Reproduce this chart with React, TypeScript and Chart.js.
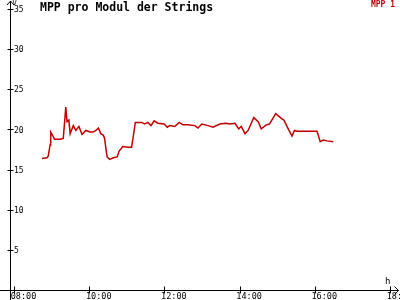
import React, { useEffect, useRef } from "react";
import { Chart, registerables } from "chart.js";

Chart.register(...registerables);

const title = "MPP pro Modul der Strings";
const seriesName = "MPP 1";
const yUnit = "V";
const xUnit = "h";
const xTickHours = [8, 10, 12, 14, 16, 18];
const yTickValues = [5, 10, 15, 20, 25, 30, 35];

const times = [
  "08:43", "08:51", "08:53", "08:56", "08:57", "09:00", "09:03", "09:12",
  "09:17", "09:19", "09:21", "09:23", "09:26", "09:28", "09:30", "09:33",
  "09:37", "09:42", "09:47", "09:53", "10:00", "10:05", "10:09", "10:13",
  "10:17", "10:21", "10:23", "10:25", "10:27", "10:31", "10:37", "10:43",
  "10:46", "10:52", "11:01", "11:06", "11:09", "11:12", "11:22", "11:27",
  "11:32", "11:37", "11:42", "11:48", "11:58", "12:03", "12:07", "12:15",
  "12:22", "12:28", "12:36", "12:47", "12:52", "12:58", "13:08", "13:16",
  "13:27", "13:36", "13:43", "13:51", "13:57", "14:01", "14:07", "14:12",
  "14:21", "14:28", "14:33", "14:41", "14:46", "14:56", "15:05", "15:09",
  "15:16", "15:22", "15:26", "15:30", "16:02", "16:07", "16:12", "16:18",
  "16:28",
];

const mppValues = [
  16.5, 16.6, 16.8, 18.2, 19.8, 19.4, 18.9, 18.9,
  19.0, 20.9, 22.9, 21.1, 21.3, 19.6, 20.0, 20.6,
  20.0, 20.5, 19.5, 20.0, 19.8, 19.8, 20.0, 20.3,
  19.6, 19.4, 19.0, 17.8, 16.7, 16.4, 16.6, 16.7,
  17.4, 18.0, 17.9, 17.9, 19.4, 21.0, 21.0, 20.8,
  21.0, 20.6, 21.2, 20.9, 20.8, 20.4, 20.6, 20.5,
  21.0, 20.7, 20.7, 20.6, 20.3, 20.8, 20.6, 20.4,
  20.8, 20.9, 20.8, 20.9, 20.2, 20.5, 19.6, 20.0,
  21.6, 21.1, 20.2, 20.7, 20.8, 22.1, 21.5, 21.3,
  20.2, 19.3, 20.0, 19.9, 19.9, 18.6, 18.8, 18.7,
  18.6,
];

const toHours = (t: string) => {
  const [h, m] = t.split(":").map(Number);
  return h + m / 60;
};

const fmtHour = (v: number) => String(Math.round(v)).padStart(2, "0") + ":00";

const MONO = "'DejaVu Sans Mono', 'Liberation Mono', monospace";
const RED = "#c00000";

const decorPlugin = {
  id: "decor",
  afterDraw(chart: any) {
    const ctx = chart.ctx;
    const xs = chart.scales.x;
    const ys = chart.scales.y;
    const ax = Math.round(xs.left) - 0.5;
    const ay = Math.round(ys.getPixelForValue(0)) - 0.5;
    ctx.save();
    ctx.strokeStyle = "#000";
    ctx.lineWidth = 1;
    // axes
    ctx.beginPath();
    ctx.moveTo(ax, 1);
    ctx.lineTo(ax, 300);
    ctx.moveTo(0, ay);
    ctx.lineTo(398.5, ay);
    // arrows
    ctx.moveTo(ax - 3.5, 5);
    ctx.lineTo(ax, 1);
    ctx.lineTo(ax + 3.5, 5);
    ctx.moveTo(394.5, ay - 4);
    ctx.lineTo(398.5, ay);
    ctx.lineTo(394.5, ay + 4);
    // y tick marks
    yTickValues.forEach((v) => {
      const py = Math.round(ys.getPixelForValue(v)) - 0.5;
      ctx.moveTo(ax - 3, py);
      ctx.lineTo(ax + 3, py);
    });
    // x tick marks
    xTickHours.forEach((v) => {
      const px = Math.round(xs.getPixelForValue(v)) - 0.5;
      ctx.moveTo(px, ay - 4);
      ctx.lineTo(px, ay + 3);
    });
    ctx.stroke();

    // unit labels
    ctx.fillStyle = "#000";
    ctx.font = `7px ${MONO}`;
    ctx.textBaseline = "top";
    ctx.textAlign = "left";
    ctx.fillText(yUnit, ax + 2, 0);
    ctx.font = `9px ${MONO}`;
    ctx.textBaseline = "middle";
    ctx.fillText(xUnit, 385, 282);

    // title
    ctx.font = `bold 11.5px ${MONO}`;
    ctx.textBaseline = "middle";
    ctx.fillText(title, 40, 8);

    // legend
    ctx.fillStyle = RED;
    ctx.font = `bold 8px ${MONO}`;
    ctx.textAlign = "right";
    ctx.fillText(seriesName, 395, 5);
    ctx.restore();
  },
};

export default function App() {
  const ref = useRef<HTMLCanvasElement>(null);

  useEffect(() => {
    document.body.style.margin = "0";
    if (!ref.current) return;
    const data = times.map((t, i) => ({ x: toHours(t), y: mppValues[i] }));
    const chart = new Chart(ref.current, {
      type: "line",
      data: {
        datasets: [
          {
            label: seriesName,
            data,
            borderColor: RED,
            backgroundColor: RED,
            borderWidth: 1.5,
            pointRadius: 0,
            tension: 0,
          },
        ],
      },
      options: {
        animation: false,
        responsive: false,
        maintainAspectRatio: false,
        layout: { padding: { top: 2, right: 2, left: 0, bottom: 0 } },
        plugins: {
          legend: { display: false },
          title: { display: false },
          tooltip: { enabled: false },
        },
        scales: {
          x: {
            type: "linear",
            min: 8 - 4 / 37.6,
            max: 18 + 7 / 37.6,
            afterBuildTicks: (s: any) => {
              s.ticks = xTickHours.map((value) => ({ value }));
            },
            afterFit: (s: any) => {
              s.height = 9;
              s.paddingLeft = 0;
              s.paddingRight = 0;
            },
            grid: { display: false, drawTicks: false },
            border: { display: false },
            ticks: {
              autoSkip: false,
              maxRotation: 0,
              minRotation: 0,
              padding: 1,
              labelOffset: 8.5,
              color: "#000",
              font: { family: MONO, size: 8.5 },
              callback: (v: any) => fmtHour(Number(v)),
            },
          },
          y: {
            type: "linear",
            min: 0,
            max: 36,
            afterBuildTicks: (s: any) => {
              s.ticks = yTickValues.map((value) => ({ value }));
            },
            afterFit: (s: any) => {
              s.width = 11;
              s.paddingTop = 0;
              s.paddingBottom = 0;
            },
            grid: { display: false, drawTicks: false },
            border: { display: false },
            ticks: {
              mirror: true,
              padding: 3,
              color: "#000",
              font: { family: MONO, size: 8 },
            },
          },
        },
      },
      plugins: [decorPlugin],
    });
    return () => chart.destroy();
  }, []);

  return (
    <div style={{ position: "fixed", left: 0, top: 0, width: 400, height: 300, background: "#fff" }}>
      <canvas ref={ref} width={400} height={300} />
    </div>
  );
}
